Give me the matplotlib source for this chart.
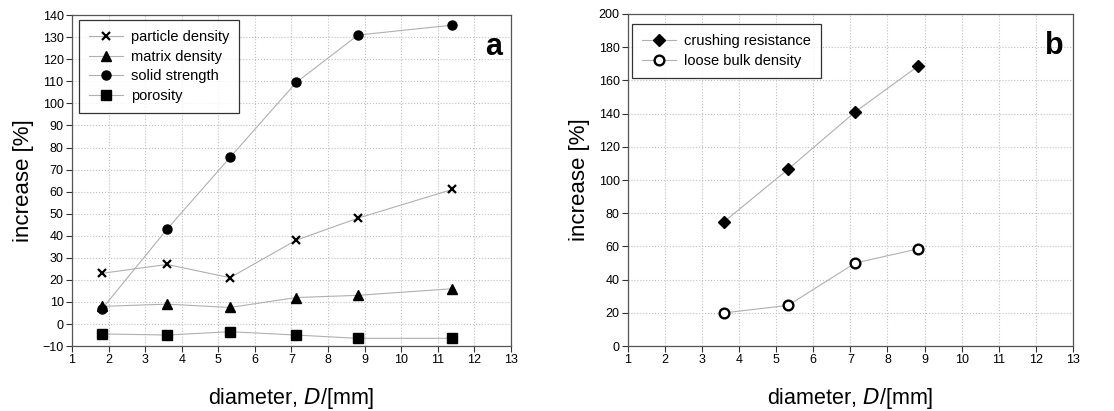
import matplotlib
matplotlib.use("Agg")
import matplotlib.pyplot as plt

plt.rcParams['font.family'] = ['Liberation Sans', 'DejaVu Sans']

# Panel a
x_a = [1.83, 3.6, 5.32, 7.13, 8.82, 11.4]
particle_density = [23, 27, 21, 38, 48, 61]
matrix_density = [8, 9, 7.5, 12, 13, 16]
solid_strength = [7, 43, 75.5, 109.5, 131, 135.5]
porosity = [-4.5, -5, -3.5, -5, -6.5, -6.5]

# Panel b
x_b = [3.6, 5.32, 7.13, 8.82]
crushing_resistance = [75, 106.5, 141, 168.5]
loose_bulk_density = [20, 24.5, 50, 58.5]

xticks = list(range(1, 14))
yticks_a = list(range(-10, 141, 10))
yticks_b = list(range(0, 201, 20))

fig = plt.figure(figsize=(11.14, 4.11), dpi=100)
ax1 = fig.add_axes([0.0646, 0.158, 0.394, 0.805])
ax2 = fig.add_axes([0.5637, 0.158, 0.3993, 0.808])

line_kw = dict(color='#b0b0b0', lw=0.8)

def style(ax, yt, ylim):
    ax.set_xlim(1, 13)
    ax.set_ylim(*ylim)
    ax.set_xticks(xticks)
    ax.set_yticks(yt)
    ax.tick_params(labelsize=9, direction='out', length=4, color='#333333', pad=2)
    ax.grid(True, linestyle=':', color='#c0c0c0', lw=0.8)
    ax.set_axisbelow(True)
    for s in ax.spines.values():
        s.set_color('#555555')
        s.set_linewidth(0.9)
    ax.set_xlabel('diameter, $\\it{D}$/[mm]', fontsize=15.5, labelpad=14)
    ax.set_ylabel('increase [%]', fontsize=16, labelpad=6)

leg_kw = dict(loc='upper left', fontsize=10.5, frameon=True, fancybox=False,
              edgecolor='black', handlelength=2.3, labelspacing=0.38,
              borderaxespad=0.0, borderpad=0.7, handletextpad=0.55)

ax1.plot(x_a, particle_density, marker='x', ms=6, mew=1.6, mec='black', label='particle density', **line_kw)
ax1.plot(x_a, matrix_density, marker='^', ms=6.5, mfc='black', mec='black', label='matrix density', **line_kw)
ax1.plot(x_a, solid_strength, marker='o', ms=6.5, mfc='black', mec='black', label='solid strength', **line_kw)
ax1.plot(x_a, porosity, marker='s', ms=6.5, mfc='black', mec='black', label='porosity', **line_kw)
style(ax1, yticks_a, (-10, 140))
leg = ax1.legend(bbox_to_anchor=(0.016, 0.985), **leg_kw)
leg.get_frame().set_linewidth(0.9)
ax1.text(0.98, 0.95, 'a', transform=ax1.transAxes, fontsize=22, fontweight='bold',
         ha='right', va='top')

ax2.plot(x_b, crushing_resistance, marker='D', ms=6.5, mfc='black', mec='black', label='crushing resistance', **line_kw)
ax2.plot(x_b, loose_bulk_density, marker='o', ms=7, mfc='white', mec='black', mew=1.7, label='loose bulk density', **line_kw)
style(ax2, yticks_b, (0, 200))
leg2 = ax2.legend(bbox_to_anchor=(0.009, 0.97), **leg_kw)
leg2.get_frame().set_linewidth(0.9)
ax2.text(0.98, 0.95, 'b', transform=ax2.transAxes, fontsize=22, fontweight='bold',
         ha='right', va='top')

fig.savefig('out.png', dpi=100)
